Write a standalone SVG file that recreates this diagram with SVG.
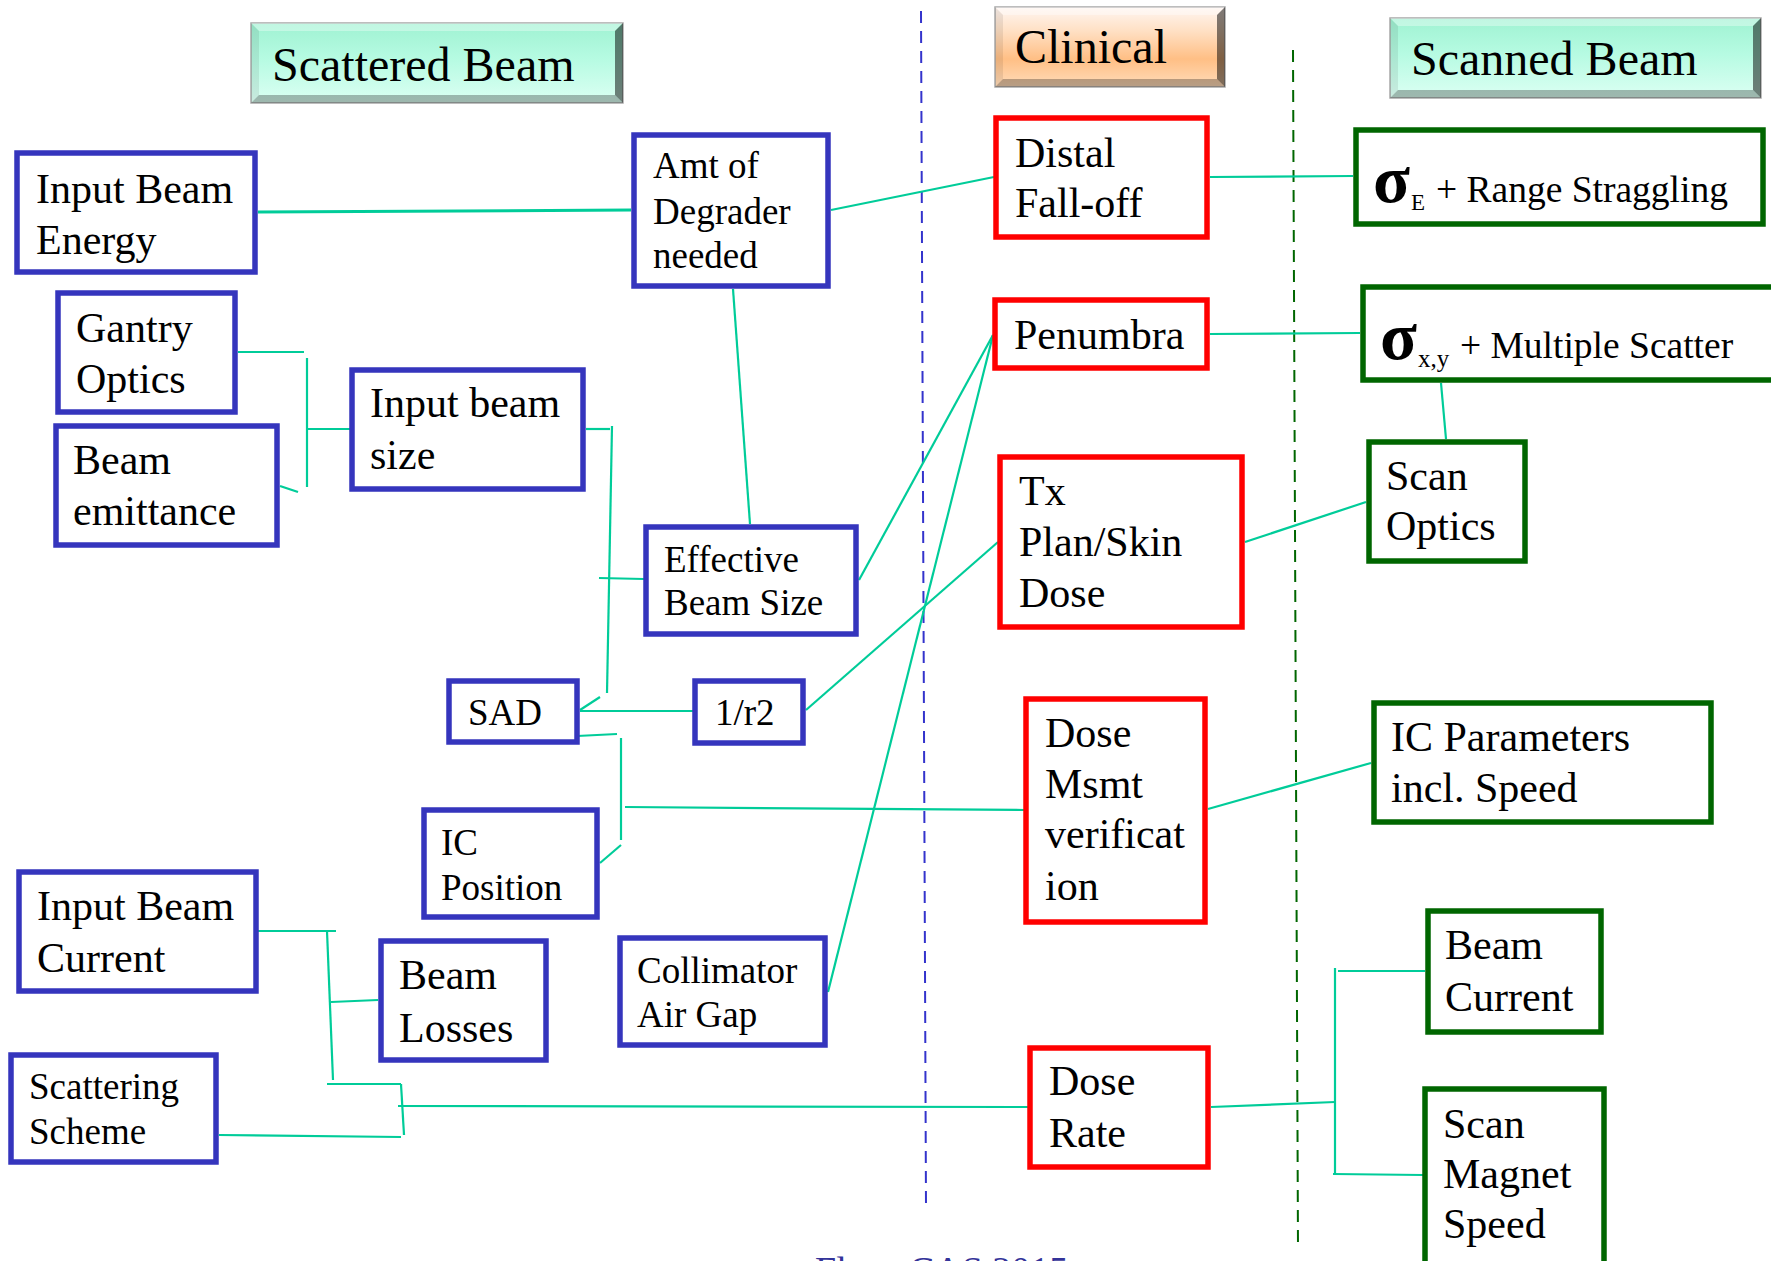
<svg xmlns="http://www.w3.org/2000/svg" width="1771" height="1261" viewBox="0 0 1771 1261">
<defs>
<linearGradient id="mint" x1="0" y1="0" x2="0" y2="1">
<stop offset="0" stop-color="#9ff2d2"/>
<stop offset="0.45" stop-color="#b6fbe2"/>
<stop offset="1" stop-color="#dcfff3"/>
</linearGradient>
<linearGradient id="orange" x1="0" y1="0" x2="0" y2="1">
<stop offset="0" stop-color="#fff6f2"/>
<stop offset="0.3" stop-color="#ffe0c4"/>
<stop offset="0.65" stop-color="#ffbf85"/>
<stop offset="1" stop-color="#ffdcba"/>
</linearGradient>
</defs>
<style>
text{font-family:"Liberation Serif","Times New Roman",serif;fill:#000}
.h{font-size:48px}
.t42{font-size:42px}
.t37{font-size:37px}
.t35{font-size:37.5px}
.sig{font-size:68px;font-weight:bold}
.blue{fill:#fff;stroke:#3535BD;stroke-width:5.5}
.red{fill:#fff;stroke:#FF0000;stroke-width:5.5}
.green{fill:#fff;stroke:#006600;stroke-width:5.5}
.hb{stroke:#a8a8a8;stroke-width:1.5}
.bt{fill:#ffffff;fill-opacity:0.35}
.bl{fill:#000;fill-opacity:0.08}
.bb{fill:#000;fill-opacity:0.28}
.br{fill:#000;fill-opacity:0.5}
.conn path{fill:none;stroke:#00CC99;stroke-width:2.2}
.dash{fill:none;stroke-width:2;stroke-dasharray:12 8}
</style>

<!-- divider lines -->
<g id="dividers">
<path class="dash" d="M921,11 L926,1208" stroke="#3333CC"/>
<path class="dash" d="M1293,50 L1298,1250" stroke="#006600"/>
</g>

<!-- connectors -->
<g id="connectors" class="conn">
<path d="M258,212 L631,210" style="stroke-width:3"/>
<path d="M831,210 L994,177"/>
<path d="M1210,177 L1353,176"/>
<path d="M733,289 L750,524"/>
<path d="M238,352 L304,352"/>
<path d="M307,358 L307,487"/>
<path d="M307,429 L350,429"/>
<path d="M280,486 L298,492"/>
<path d="M586,429 L610,429"/>
<path d="M612,426 L607,693"/>
<path d="M600,697 L580,710"/>
<path d="M599,578 L644,579"/>
<path d="M580,711 L693,711"/>
<path d="M806,710 L998,542"/>
<path d="M859,580 L993,335"/>
<path d="M828,992 L993,335"/>
<path d="M1210,334 L1360,333"/>
<path d="M1441,383 L1446,439"/>
<path d="M1245,542 L1366,502"/>
<path d="M577,736 L617,734"/>
<path d="M621,738 L621,840"/>
<path d="M621,845 L600,863"/>
<path d="M625,807 L1024,810"/>
<path d="M1208,809 L1371,763"/>
<path d="M258,931 L336,931"/>
<path d="M327,931 L333,1080"/>
<path d="M331,1002 L378,1000"/>
<path d="M327,1084 L401,1084"/>
<path d="M401,1084 L404,1135"/>
<path d="M219,1135 L401,1137"/>
<path d="M398,1106 L1028,1107"/>
<path d="M1211,1107 L1335,1102"/>
<path d="M1335,968 L1335,1174"/>
<path d="M1338,971 L1425,971"/>
<path d="M1333,1174 L1423,1175"/>
</g>

<!-- headers -->
<g id="hdr-scattered">
<rect class="hb" x="251" y="23" width="372" height="80" fill="url(#mint)"/>
<polygon class="bt" points="251,23 623,23 615,31 259,31"/>
<polygon class="bl" points="251,23 259,31 259,95 251,103"/>
<polygon class="bb" points="251,103 623,103 615,95 259,95"/>
<polygon class="br" points="623,23 623,103 615,95 615,31"/>
<text class="h" x="272" y="81">Scattered Beam</text>
</g>
<g id="hdr-clinical">
<rect class="hb" x="995" y="7" width="230" height="80" fill="url(#orange)"/>
<polygon class="bt" points="995,7 1225,7 1217,15 1003,15"/>
<polygon class="bl" points="995,7 1003,15 1003,79 995,87"/>
<polygon class="bb" points="995,87 1225,87 1217,79 1003,79"/>
<polygon class="br" points="1225,7 1225,87 1217,79 1217,15"/>
<text class="h" x="1015" y="63">Clinical</text>
</g>
<g id="hdr-scanned">
<rect class="hb" x="1390" y="18" width="371" height="80" fill="url(#mint)"/>
<polygon class="bt" points="1390,18 1761,18 1753,26 1398,26"/>
<polygon class="bl" points="1390,18 1398,26 1398,90 1390,98"/>
<polygon class="bb" points="1390,98 1761,98 1753,90 1398,90"/>
<polygon class="br" points="1761,18 1761,98 1753,90 1753,26"/>
<text class="h" x="1411" y="75">Scanned Beam</text>
</g>

<!-- blue nodes -->
<g id="input-beam-energy"><rect class="blue" x="17" y="153" width="238" height="119"/>
<text class="t42" x="36" y="203">Input Beam</text><text class="t42" x="36" y="254">Energy</text></g>
<g id="amt-degrader"><rect class="blue" x="634" y="135" width="194" height="151"/>
<text class="t37" x="653" y="178">Amt of</text><text class="t37" x="653" y="224">Degrader</text><text class="t37" x="653" y="268">needed</text></g>
<g id="gantry-optics"><rect class="blue" x="58" y="293" width="177" height="119"/>
<text class="t42" x="76" y="342">Gantry</text><text class="t42" x="76" y="393">Optics</text></g>
<g id="beam-emittance"><rect class="blue" x="56" y="426" width="221" height="119"/>
<text class="t42" x="73" y="474">Beam</text><text class="t42" x="73" y="525">emittance</text></g>
<g id="input-beam-size"><rect class="blue" x="352" y="370" width="231" height="119"/>
<text class="t42" x="370" y="417">Input beam</text><text class="t42" x="370" y="469">size</text></g>
<g id="effective-beam-size"><rect class="blue" x="646" y="527" width="210" height="107"/>
<text class="t37" x="664" y="572">Effective</text><text class="t37" x="664" y="615">Beam Size</text></g>
<g id="sad"><rect class="blue" x="449" y="681" width="128" height="61"/>
<text class="t37" x="468" y="725">SAD</text></g>
<g id="inv-r2"><rect class="blue" x="695" y="681" width="108" height="62"/>
<text class="t37" x="715" y="725">1/r2</text></g>
<g id="ic-position"><rect class="blue" x="424" y="810" width="173" height="107"/>
<text class="t37" x="441" y="855">IC</text><text class="t37" x="441" y="900">Position</text></g>
<g id="input-beam-current"><rect class="blue" x="19" y="872" width="237" height="119"/>
<text class="t42" x="37" y="920">Input Beam</text><text class="t42" x="37" y="972">Current</text></g>
<g id="beam-losses"><rect class="blue" x="381" y="941" width="165" height="119"/>
<text class="t42" x="399" y="989">Beam</text><text class="t42" x="399" y="1042">Losses</text></g>
<g id="collimator-air-gap"><rect class="blue" x="620" y="938" width="205" height="107"/>
<text class="t37" x="637" y="983">Collimator</text><text class="t37" x="637" y="1027">Air Gap</text></g>
<g id="scattering-scheme"><rect class="blue" x="11" y="1055" width="205" height="107"/>
<text class="t37" x="29" y="1099">Scattering</text><text class="t37" x="29" y="1144">Scheme</text></g>

<!-- red nodes -->
<g id="distal-falloff"><rect class="red" x="996" y="118" width="211" height="119"/>
<text class="t42" x="1015" y="167">Distal</text><text class="t42" x="1015" y="217">Fall-off</text></g>
<g id="penumbra"><rect class="red" x="995" y="300" width="212" height="68"/>
<text class="t42" x="1014" y="349">Penumbra</text></g>
<g id="tx-plan"><rect class="red" x="1000" y="457" width="242" height="170"/>
<text class="t42" x="1019" y="505">Tx</text><text class="t42" x="1019" y="556">Plan/Skin</text><text class="t42" x="1019" y="607">Dose</text></g>
<g id="dose-msmt"><rect class="red" x="1026" y="699" width="179" height="223"/>
<text class="t42" x="1045" y="747">Dose</text><text class="t42" x="1045" y="798">Msmt</text><text class="t42" x="1045" y="848">verificat</text><text class="t42" x="1045" y="900">ion</text></g>
<g id="dose-rate"><rect class="red" x="1030" y="1048" width="178" height="119"/>
<text class="t42" x="1049" y="1095">Dose</text><text class="t42" x="1049" y="1147">Rate</text></g>

<!-- green nodes -->
<g id="sigma-e"><rect class="green" x="1356" y="130" width="407" height="94"/>
<text class="sig" x="1373" y="202">σ</text><text x="1411" y="210" style="font-size:23px">E</text><text class="t35" x="1436" y="202">+ Range Straggling</text></g>
<g id="sigma-xy"><rect class="green" x="1363" y="287" width="420" height="93"/>
<text class="sig" x="1380" y="359">σ</text><text x="1418" y="367" style="font-size:25px">x,y</text><text class="t35" x="1460" y="358">+ Multiple Scatter</text></g>
<g id="scan-optics"><rect class="green" x="1369" y="442" width="156" height="119"/>
<text class="t42" x="1386" y="490">Scan</text><text class="t42" x="1386" y="540">Optics</text></g>
<g id="ic-parameters"><rect class="green" x="1374" y="703" width="337" height="119"/>
<text class="t42" x="1391" y="751">IC Parameters</text><text class="t42" x="1391" y="802">incl. Speed</text></g>
<g id="beam-current"><rect class="green" x="1428" y="911" width="173" height="121"/>
<text class="t42" x="1445" y="959">Beam</text><text class="t42" x="1445" y="1011">Current</text></g>
<g id="scan-magnet-speed"><rect class="green" x="1425" y="1089" width="179" height="180"/>
<text class="t42" x="1443" y="1138">Scan</text><text class="t42" x="1443" y="1188">Magnet</text><text class="t42" x="1443" y="1238">Speed</text></g>

<text x="815" y="1283" style="font-size:38px;fill:#333399">Flanz CAS 2015</text>
</svg>
